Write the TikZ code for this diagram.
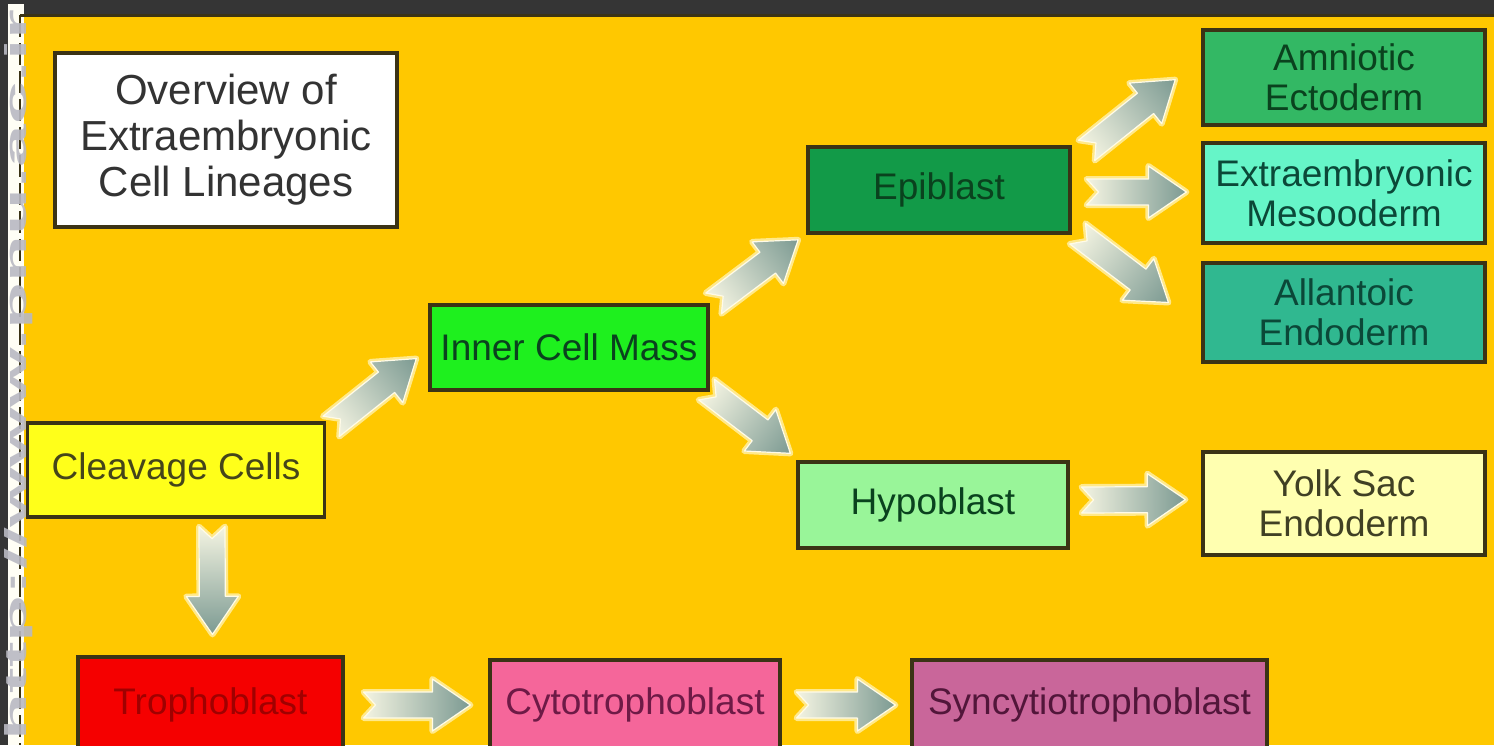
\documentclass[tikz,border=0pt]{standalone}
\usepackage{fontspec}
\usepackage{graphicx}
\setmainfont{Liberation Sans}
\usetikzlibrary{calc}
\definecolor{bgdark}{HTML}{353535}
\definecolor{bgyellow}{HTML}{FFC800}
\definecolor{boxline}{HTML}{3B3315}
\definecolor{arrtail}{HTML}{F4F4E2}
\definecolor{arrhead}{HTML}{7C9A92}
\definecolor{arrglow}{HTML}{FFE98A}
\definecolor{wmgray}{HTML}{B9B9C2}
\definecolor{cTitle}{HTML}{FFFFFF}
\definecolor{cCleave}{HTML}{FFFF1A}
\definecolor{cTroph}{HTML}{F50000}
\definecolor{cCyto}{HTML}{F5669A}
\definecolor{cSyn}{HTML}{C9669A}
\definecolor{cICM}{HTML}{1EF01E}
\definecolor{cEpi}{HTML}{129A48}
\definecolor{cHypo}{HTML}{99F599}
\definecolor{cAmn}{HTML}{33B864}
\definecolor{cExt}{HTML}{66F5C8}
\definecolor{cAll}{HTML}{30B890}
\definecolor{cYolk}{HTML}{FFFFB0}
\definecolor{tGray}{HTML}{333333}
\definecolor{tOlive}{HTML}{45451A}
\definecolor{tRed}{HTML}{A00000}
\definecolor{tPlum}{HTML}{6E1A46}
\definecolor{tPlumDk}{HTML}{52163A}
\definecolor{tGreen}{HTML}{0A421E}
\definecolor{tTeal}{HTML}{0B4838}
\definecolor{tYolk}{HTML}{404024}
\newcommand\arrshape{(0pt,13pt) -- ({\arrlen-38pt},13pt) -- ({\arrlen-38pt},26pt) -- (\arrlen,0pt) -- ({\arrlen-38pt},-26pt) -- ({\arrlen-38pt},-13pt) -- (0pt,-13pt) -- (12pt,0pt) -- cycle}
\newcommand\blockarr[2]{%
  \pgfmathanglebetweenpoints{\pgfpointanchor{#1}{center}}{\pgfpointanchor{#2}{center}}%
  \let\arrang\pgfmathresult
  \path let \p1=($(#2)-(#1)$), \n1={veclen(\x1,\y1)} in \pgfextra{\xdef\arrlen{\n1}};
  \begin{scope}[transform canvas={shift={(#1)},rotate=\arrang}]
    \path[draw=arrglow,line width=6pt,line join=round] \arrshape;
    \shade[left color=arrtail,right color=arrhead,draw=white!80!arrglow,line width=1.2pt,line join=round] \arrshape;
  \end{scope}}
\begin{document}
\begin{tikzpicture}[x=1pt,y=-1pt,
  box/.style={draw=boxline,line width=3.2pt,inner sep=0pt,align=center,
    font=\fontsize{37}{40}\selectfont},
  wm/.style={text=wmgray,inner sep=0pt}]
\useasboundingbox (0,0) rectangle (1494,745);
% background
\fill[bgdark] (0,0) rectangle (1494,745);
\fill[bgyellow] (24,14) rectangle (1494,745);
\fill[white!96!yellow] (8,4) rectangle (24,745);
\draw[boxline,line width=3pt] (20,15) -- (1494,15);
\draw[boxline,line width=2.5pt,dash pattern=on 22pt off 6pt] (20,15) -- (20,745);
% nodes
\node[box,fill=cTitle,text=tGray,minimum width=342,minimum height=174,
  font=\fontsize{42}{46}\selectfont] (title) at (226,140) {Overview of\\Extraembryonic\\Cell Lineages};
\node[box,fill=cCleave,text=tOlive,minimum width=297,minimum height=94] (cc) at (176,470) {Cleavage Cells};
\node[box,fill=cTroph,text=tRed,minimum width=265,minimum height=96] (tro) at (210.5,705) {Trophoblast};
\node[box,fill=cCyto,text=tPlum,minimum width=290,minimum height=90] (cyto) at (635,705) {Cytotrophoblast};
\node[box,fill=cSyn,text=tPlumDk,minimum width=355,minimum height=90] (syn) at (1089.5,705) {Syncytiotrophoblast};
\node[box,fill=cICM,text=tGreen,minimum width=278,minimum height=85] (icm) at (569,347.5) {Inner Cell Mass};
\node[box,fill=cEpi,text=tGreen,minimum width=262,minimum height=86] (epi) at (939,190) {Epiblast};
\node[box,fill=cHypo,text=tGreen,minimum width=270,minimum height=86] (hypo) at (933,505) {Hypoblast};
\node[box,fill=cAmn,text=tGreen,minimum width=282,minimum height=95] (amn) at (1344,77.5) {Amniotic\\Ectoderm};
\node[box,fill=cExt,text=tTeal,minimum width=282,minimum height=100] (ext) at (1344,193) {Extraembryonic\\Mesooderm};
\node[box,fill=cAll,text=tTeal,minimum width=282,minimum height=99] (all) at (1344,312.5) {Allantoic\\Endoderm};
\node[box,fill=cYolk,text=tYolk,minimum width=282,minimum height=103] (yolk) at (1344,503.5) {Yolk Sac\\Endoderm};
% arrow end points
\coordinate (a1) at ($(cc.north east)+(5,5)$);
\coordinate (a2) at ($(icm.west)+(-12,11)$);
\coordinate (b1) at ($(cc.south)+(36,8)$);
\coordinate (b2) at ($(tro.north)+(2,-21)$);
\coordinate (c1) at ($(icm.north east)+(4,0)$);
\coordinate (c2) at ($(epi.south west)+(-8,5)$);
\coordinate (d1) at ($(icm.south east)+(-3,-2)$);
\coordinate (d2) at ($(hypo.north west)+(-6,-7)$);
\coordinate (e1) at ($(epi.north east)+(15,5)$);
\coordinate (e2) at ($(amn.west)+(-26,2)$);
\coordinate (f1) at ($(epi.east)+(15,2)$);
\coordinate (f2) at ($(ext.west)+(-15,-1)$);
\coordinate (g1) at ($(epi.south east)+(6,-1)$);
\coordinate (g2) at ($(all.west)+(-33,-10)$);
\coordinate (h1) at ($(hypo.east)+(12,-5)$);
\coordinate (h2) at ($(yolk.west)+(-16,-4)$);
\coordinate (i1) at ($(tro.east)+(19,0)$);
\coordinate (i2) at ($(cyto.west)+(-18,0)$);
\coordinate (j1) at ($(cyto.east)+(15,0)$);
\coordinate (j2) at ($(syn.west)+(-15,0)$);
\blockarr{a1}{a2}
\blockarr{b1}{b2}
\blockarr{c1}{c2}
\blockarr{d1}{d2}
\blockarr{e1}{e2}
\blockarr{f1}{f2}
\blockarr{g1}{g2}
\blockarr{h1}{h2}
\blockarr{i1}{i2}
\blockarr{j1}{j2}
% watermark
\node[wm,rotate=90,opacity=0.9] (wmark) at (19,375) {\resizebox{730pt}{22pt}{\bfseries http://www.pnu.ac.ir}};
\end{tikzpicture}
\end{document}
